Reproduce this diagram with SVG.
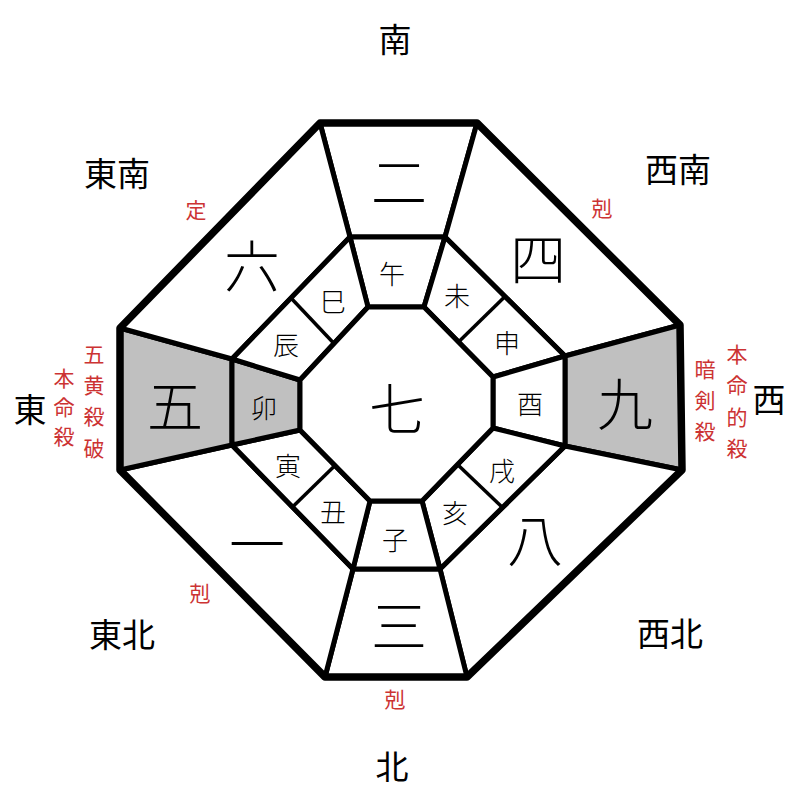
<svg xmlns="http://www.w3.org/2000/svg" width="800" height="800" viewBox="0 0 800 800">
<style>
text{font-family:"Noto Sans CJK JP","Noto Sans CJK SC",sans-serif;text-anchor:middle;dominant-baseline:central;fill:#000}
.dir{font-size:33px}
.num{font-size:56px;font-weight:300}
.br{font-size:26px;font-weight:300}
.red{font-size:21px;fill:#cc3333}
.cell{fill:#fff;stroke:#000;stroke-width:5;stroke-linejoin:round}
.shade{fill:#c0c0c0}
.div{stroke:#000;stroke-width:3.5;fill:none}
.outer{fill:none;stroke:#000;stroke-width:7.5;stroke-linejoin:round}
</style>
<rect width="800" height="800" fill="#fff"/>
<g id="outer-ring">
<g id="cell-2"><polygon class="cell" points="320,123 477,123 445,237 350,237"/><text class="num" x="399" y="178">二</text></g>
<g id="cell-4"><polygon class="cell" points="477,123 680,325 565,356 445,237"/><text class="num" x="538" y="255">四</text></g>
<g id="cell-9"><polygon class="cell shade" points="680,325 682,470 565,446 565,356"/><text class="num" x="625" y="400">九</text></g>
<g id="cell-8"><polygon class="cell" points="682,470 467,677 440,569 565,446"/><text class="num" x="535" y="536">八</text></g>
<g id="cell-3"><polygon class="cell" points="467,677 325,677 353,569 440,569"/><text class="num" x="399" y="622">三</text></g>
<g id="cell-1"><polygon class="cell" points="325,677 120,470 232,445 353,569"/><text class="num" x="257" y="540">一</text></g>
<g id="cell-5"><polygon class="cell shade" points="120,470 120,328 232,359 232,445"/><text class="num" x="175" y="402">五</text></g>
<g id="cell-6"><polygon class="cell" points="120,328 320,123 350,237 232,359"/><text class="num" x="252" y="262">六</text></g>
</g>
<g id="inner-ring">
<g id="cell-wu"><polygon class="cell" points="350,237 445,237 424,307 368,307"/><text class="br" x="392" y="272">午</text></g>
<g id="cell-weishen"><polygon class="cell" points="445,237 565,356 493,377 424,307"/><text class="br" x="457" y="294">未</text><text class="br" x="507" y="341">申</text></g>
<g id="cell-you"><polygon class="cell" points="565,356 565,446 493,428 493,377"/><text class="br" x="530" y="402">酉</text></g>
<g id="cell-xuhai"><polygon class="cell" points="565,446 440,569 422,501 493,428"/><text class="br" x="502" y="469">戌</text><text class="br" x="455" y="511">亥</text></g>
<g id="cell-zi"><polygon class="cell" points="440,569 353,569 370,501 422,501"/><text class="br" x="395" y="538">子</text></g>
<g id="cell-chouyin"><polygon class="cell" points="353,569 232,445 300,430 370,501"/><text class="br" x="333" y="510">丑</text><text class="br" x="288" y="464">寅</text></g>
<g id="cell-mao"><polygon class="cell shade" points="232,445 232,359 300,380 300,430"/><text class="br" x="264" y="406">卯</text></g>
<g id="cell-chensi"><polygon class="cell" points="232,359 350,237 368,307 300,380"/><text class="br" x="286" y="343">辰</text><text class="br" x="333" y="300">巳</text></g>
</g>
<g id="center"><polygon class="cell" points="368,307 424,307 493,377 493,428 422,501 370,501 300,430 300,380"/><text class="num" x="397" y="405">七</text></g>
<g id="connectors">
<line class="div" x1="458.5" y1="342" x2="505" y2="296.5"/>
<line class="div" x1="457.5" y1="464.5" x2="502.5" y2="507.5"/>
<line class="div" x1="335" y1="465.5" x2="292.5" y2="507"/>
<line class="div" x1="334" y1="343.5" x2="291" y2="298"/>
<polygon class="outer" points="320,123 477,123 680,325 682,470 467,677 325,677 120,470 120,328"/>
</g>
<g id="labels">
<text class="dir" x="395" y="38">南</text>
<text class="dir" x="117" y="172">東南</text>
<text class="dir" x="678" y="168">西南</text>
<text class="dir" x="30" y="408">東</text>
<text class="dir" x="769" y="398">西</text>
<text class="dir" x="122" y="633">東北</text>
<text class="dir" x="670" y="632">西北</text>
<text class="dir" x="392" y="765">北</text>
<text class="red" x="196" y="209">定</text>
<text class="red" x="602" y="207">剋</text>
<text class="red" x="200" y="592">剋</text>
<text class="red" x="395" y="698">剋</text>
<text class="red" x="94" y="353">五<tspan x="94" dy="31">黄</tspan><tspan x="94" dy="31">殺</tspan><tspan x="94" dy="32">破</tspan></text>
<text class="red" x="64" y="377">本<tspan x="64" dy="29">命</tspan><tspan x="64" dy="29">殺</tspan></text>
<text class="red" x="705" y="368">暗<tspan x="705" dy="31">剣</tspan><tspan x="705" dy="31">殺</tspan></text>
<text class="red" x="737" y="353">本<tspan x="737" dy="31">命</tspan><tspan x="737" dy="32">的</tspan><tspan x="737" dy="31">殺</tspan></text>
</g>
</svg>
